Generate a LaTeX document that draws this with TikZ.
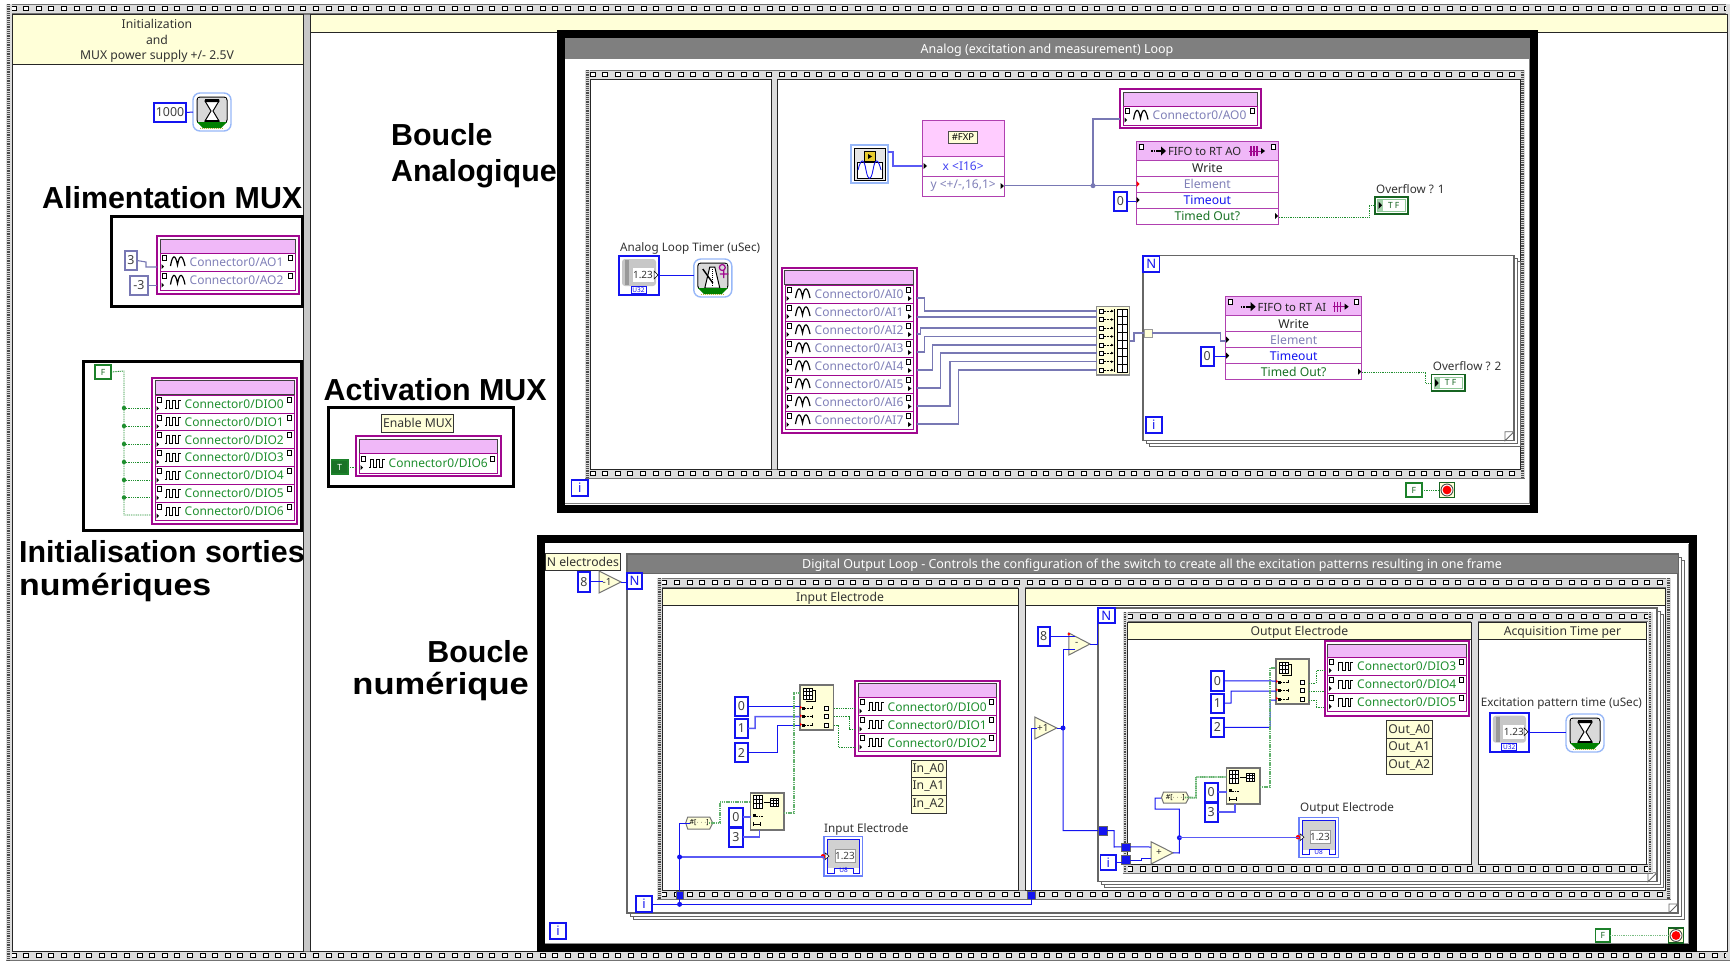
\documentclass[tikz,border=0pt]{standalone}
\usepackage{fontspec}
\setmainfont{Noto Sans}
\newfontfamily\bigfam{Liberation Sans}
\usetikzlibrary{calc}
\definecolor{mag}{HTML}{A0088F}
\definecolor{rowb}{HTML}{B040B0}
\definecolor{pinkh}{HTML}{F0B8F8}
\definecolor{pinkl}{HTML}{FFCCFF}
\definecolor{yel}{HTML}{FFFFD8}
\definecolor{film}{HTML}{DCDCDC}
\definecolor{hdr}{HTML}{7F7F7F}
\definecolor{dbl}{HTML}{7878B4}
\definecolor{dbt}{HTML}{8080B8}
\definecolor{grn}{HTML}{1F8F2F}
\definecolor{wblue}{HTML}{1414F0}
\definecolor{lblue}{HTML}{98B8F8}
\tikzset{
  box/.style={rectangle,inner sep=0pt,outer sep=0pt},
  txt/.style={font=\fontsize{11.7}{14}\selectfont,text=black!80,inner sep=0pt},
  ctxt/.style={font=\fontsize{12}{14}\selectfont,text=black!80,inner sep=0pt},
  bigt/.style={font=\bigfam\bfseries\fontsize{30.4}{34}\selectfont,text=black,inner sep=0pt,anchor=west},
  ttl/.style={font=\fontsize{12.5}{14}\selectfont\bfseries,text=white,inner sep=0pt},
  nconst/.style={draw=wblue,line width=2pt,fill=white,font=\fontsize{12.4}{14}\selectfont,text=black!75},
  dconst/.style={draw=dbl,line width=1.6pt,fill=white,font=\fontsize{12.4}{14}\selectfont,text=black!75},
  bconst/.style={draw=grn!90!black,line width=1.6pt,fill=white,font=\fontsize{8.5}{9}\selectfont\bfseries,text=grn!70!black},
  tconst/.style={draw=grn!90!black,line width=1.6pt,fill=grn!80!black,font=\fontsize{8.5}{9}\selectfont\bfseries,text=white},
  iterm/.style={draw=wblue,line width=1.8pt,fill=white,font=\fontsize{13}{14}\selectfont\bfseries,text=wblue},
  bw/.style={draw=wblue,line width=1pt},
  bt/.style={draw=wblue!70,line width=1.5pt},
  dw/.style={draw=dbl,line width=1.1pt},
  gw/.style={draw=grn,line width=.9pt,dash pattern=on 1pt off .8pt},
  gt/.style={draw=grn!70,line width=1.8pt,dash pattern=on 1.2pt off .6pt},
  fr/.style={draw=black!85,line width=1pt,fill=white},
  hd/.style={draw=black!85,line width=1pt,fill=yel},
  hdt/.style={hd,font=\fontsize{12.2}{14}\selectfont,text=black!80},
  tun/.style={fill=wblue,draw=black!60,line width=.4pt},
  lbl/.style={draw=black!80,line width=.8pt,fill=yel,font=\fontsize{12.2}{14}\selectfont,text=black!80},
  blk/.style={draw=black,line width=3pt},
  divd/.style={fill=black!22,draw=black!55,line width=.6pt},
}
\newcommand{\bx}[7]{%
  \pgfmathsetmacro\mycx{(#2+#4)/2}\pgfmathsetmacro\mycy{(#3+#5)/2}%
  \pgfmathsetmacro\myw{#4-#2}\pgfmathsetmacro\myh{#5-#3}%
  \node[box,minimum width=\myw pt,minimum height=\myh pt,#6] (#1) at (\mycx,\mycy) {#7};}
\newcommand{\low}[1]{\raisebox{-2pt}[\height][\depth]{#1}}
\newcommand{\filmH}[3]{%
  \fill[film] (#1,#3) rectangle (#2,#3+9);
  \draw[black!55,line width=.8pt] (#1,#3) -- (#2,#3) (#1,#3+9) -- (#2,#3+9);
  \pgfmathtruncatemacro\myn{(#2-#1-10)/12.6}%
  \foreach \k in {0,...,\myn}{\pgfmathsetmacro\xx{#1+5+\k*12.6}%
    \draw[black,fill=white,line width=.8pt] (\xx,#3+2.3) rectangle (\xx+5,#3+6.8);}}
\newcommand{\filmV}[4]{%
  \fill[film] (#1,#2) rectangle (#3,#4);
  \draw[black!70,line width=2.6pt,dash pattern=on .9pt off .9pt] ({(#1+#3)/2},#2) -- ({(#1+#3)/2},#4);}
\newcommand{\gA}{\draw[black,line width=1.2pt] (10.5,4) .. controls (12.5,-8) and (15.5,-8) .. (17.5,3) .. controls (19.5,-8) and (22.5,-8) .. (25,4);}
\newcommand{\gD}{\draw[black,line width=.8pt] (10,4) -- (11,4) -- (11,-4) -- (14.5,-4) -- (14.5,4) -- (17.5,4) -- (17.5,-4) -- (20.5,-4) -- (20.5,4) -- (23,4) -- (23,-4) -- (25.5,-4);}
\newcommand{\pgL}{\draw[black,fill=white,line width=.6pt] (2,-7) rectangle (6,-2); \fill[black] (1.5,2) -- (4,4.5) -- (1.5,7) -- cycle;}
\newcommand{\iorow}[8]{%
  \bx{#1}{#2}{#3}{#4}{#5}{draw=mag,line width=.8pt,fill=white}{}%
  \pgfmathsetmacro\ym{(#3+#5)/2}%
  \begin{scope}[shift={(#2,\ym)}]\pgL #6\end{scope}
  \begin{scope}[shift={(#4,\ym)}]\draw[black,fill=white,line width=.6pt] (-7,-7) rectangle (-3,-2);\end{scope}
  \node[ctxt,anchor=west,text=#7] (#1t) at ([xshift=29.5pt]#1.west) {#8};}
\newcommand{\ioframe}[5]{%
  \bx{#1}{#2}{#3}{#4}{#5}{draw=mag,line width=2pt,fill=white}{}%
  \fill[pinkh,draw=black!75,line width=.8pt] (#2+3,#3+3) rectangle (#4-3,#3+17);}
\newcommand{\rTri}[2]{\fill[black] (#1,#2) -- (#1+3.5,#2+3) -- (#1,#2+6) -- cycle;}
\newcommand{\hglass}[3]{%
  \node[box,minimum width=38pt,minimum height=38pt,rounded corners=7pt,draw=lblue,line width=1.4pt,fill=white] (#1) at (#2,#3) {};
  \begin{scope}[shift={(#2,#3)}]
   \draw[black,rounded corners=3pt,fill=white,line width=1pt] (-15,-15) rectangle (15,11);
   \fill[black!15] (-14,-14) rectangle (14,10);
   \draw[black,line width=1pt,fill=white] (-7,-11) -- (7,-11) -- (1,-1) -- (7,9) -- (-7,9) -- (-1,-1) -- cycle;
   \fill[black] (-7,-13) rectangle (7,-10) (-7,8) rectangle (7,11);
   \fill[green!50!black] (-15,10) -- (15,10) -- (9,16) -- (-9,16) -- cycle;
   \draw[yellow!70!black,line width=1pt,dash pattern=on 1pt off 1pt] (-12,16.5) -- (12,16.5);
  \end{scope}}
\newcommand{\metro}[3]{%
  \node[box,minimum width=38pt,minimum height=38pt,rounded corners=7pt,draw=lblue,line width=1.4pt,fill=white] (#1) at (#2,#3) {};
  \begin{scope}[shift={(#2,#3)}]
   \draw[black,rounded corners=3pt,fill=white,line width=1pt] (-15,-15) rectangle (15,11);
   \fill[black!15] (-14,-14) rectangle (14,10);
   \draw[black,fill=white,line width=1pt] (-8,10) -- (-3,-11) -- (2,-11) -- (7,10) -- cycle;
   \draw[black,line width=1.4pt] (-10,-9) -- (0,5);
   \draw[black,line width=1pt,dash pattern=on 1pt off 1pt] (-.5,-9) -- (-.5,8);
   \draw[mag,line width=1.2pt] (9.5,-10.5) circle (3) (7,-4) -- (15.5,-4) (11,-8) -- (11,0);
   \fill[green!50!black] (-15,10) -- (15,10) -- (9,16) -- (-9,16) -- cycle;
   \draw[yellow!70!black,line width=1pt,dash pattern=on 1pt off 1pt] (-12,16.5) -- (12,16.5);
  \end{scope}}
\newcommand{\nctl}[5]{%
  \bx{#1}{#2}{#3}{#4}{#5}{draw=wblue,line width=2.2pt,fill=white}{}%
  \fill[black!22,rounded corners=3pt] (#2+3,#3+3) rectangle (#4-3,#5-9);
  \fill[black!40] (#2+6,#3+4) rectangle (#2+10,#5-10);
  \node[box,fill=white,minimum width=21pt,minimum height=14pt,font=\fontsize{10}{11}\selectfont,text=black!80] (#1n) at (#2+24,#3+19) {1.23};
  \fill[white,draw=black,line width=.5pt] (#4-5,#3+15) -- (#4-1,#3+19) -- (#4-5,#3+23) -- cycle;
  \node[box,draw=wblue,fill=white,line width=1pt,minimum width=15pt,minimum height=7pt,font=\fontsize{6.5}{7}\selectfont\bfseries,text=wblue] (#1u) at (#2+19.5,#5-5) {U32};}
\newcommand{\nind}[6]{%
  \bx{#1}{#2}{#3}{#4}{#5}{draw=lblue!70!blue,line width=1.2pt,fill=white}{}%
  \fill[black!18] (#2+3,#3+3) rectangle (#4-3,#5-8);
  \fill[white] (#2+12,#5-8) rectangle (#4-12,#5-3);
  \draw[wblue,line width=.9pt] (#2+3,#3+3) -- (#4-3,#3+3) -- (#4-3,#5-3) -- (#4-9,#5-3) -- (#4-9,#5-8) -- (#2+10,#5-8) -- (#2+10,#5-3) -- (#2+3,#5-3) -- cycle;
  \node[box,fill=white,draw=black!40,line width=.8pt,minimum width=20pt,minimum height=13pt,font=\fontsize{10}{11}\selectfont,text=black!75] (#1n) at (#2+21,#3+19) {1.23};
  \node[box,font=\fontsize{6.5}{7}\selectfont\bfseries,text=wblue] (#1u) at (#2+19.5,#5-5.5) {#6};
  \fill[white,draw=black,line width=.5pt] (#2+1,#3+16) -- (#2+5,#3+19.5) -- (#2+1,#3+23) -- cycle;
  \fill[red] (#2-1,#3+19.5) circle (2.2pt);}
\newcommand{\tfind}[5]{%
  \bx{#1}{#2}{#3}{#4}{#5}{draw=grn!70!black,line width=1.4pt,fill=white,font=\fontsize{8.5}{9}\selectfont\bfseries,text=grn!70!black,align=center}{\ \ T F}%
  \draw[grn!50,line width=.8pt] (#2+2.5,#3+2.5) rectangle (#4-2.5,#5-2.5);
  \fill[grn!40] (#2+3,#3+3) rectangle (#2+8,#5-3);
  \fill[black] (#2+3.5,#3+4.5) -- (#2+7,#3+8.3) -- (#2+3.5,#3+12) -- cycle;}
\newcommand{\stopb}[3]{%
  \node[box,minimum size=15pt,draw=grn!70!black,line width=1.2pt,fill=yel] (#1) at (#2,#3) {};
  \draw[black!70,fill=white,line width=.9pt] (#2,#3) circle (6pt);
  \fill[red] (#2,#3) circle (4.4pt);}
\newcommand{\grid}[4]{% x y w h
  \draw[black,line width=.7pt,fill=white] (#1,#2) rectangle (#1+#3,#2+#4);
  \draw[black,line width=.5pt] (#1+#3/3,#2) -- (#1+#3/3,#2+#4) (#1+2*#3/3,#2) -- (#1+2*#3/3,#2+#4) (#1,#2+#4/3) -- (#1+#3,#2+#4/3) (#1,#2+2*#4/3) -- (#1+#3,#2+2*#4/3);}
\newcommand{\idxrow}[3]{% x1 x2 y
  \fill[black] (#1+2,#3-1.2) rectangle (#1+5,#3+1.5);
  \draw[black,line width=.5pt,dash pattern=on .8pt off .8pt] (#1+5,#3) -- (#1+12,#3);
  \draw[black,line width=.6pt] (#1+12,#3-2) -- (#1+12,#3+1);
  \draw[black,fill=white,line width=.7pt] (#2-9,#3-2) rectangle (#2-5,#3+2);
  \fill[red] (#1,#3-2.4) -- (#1+2,#3-.6) -- (#1,#3+1) -- cycle;}
\newcommand{\idxbox}[5]{%
  \bx{#1}{#2}{#3}{#4}{#5}{draw=black!55,line width=1.1pt,fill=yel}{}%
  \grid{#2+3}{#3+3}{9}{11}
  \draw[black,line width=.5pt] (#2+12,#3+5) -- (#2+15,#3+5) -- (#2+15,#3+16) -- (#2+6,#3+16);
  \idxrow{#2}{#4}{#3+23}\idxrow{#2}{#4}{#3+31.5}\idxrow{#2}{#4}{#3+40}}
\newcommand{\rshp}[5]{%
  \bx{#1}{#2}{#3}{#4}{#5}{draw=black!55,line width=1.1pt,fill=yel}{}%
  \grid{#2+3}{#3+2}{9}{13}\grid{#2+20}{#3+5}{8}{8}
  \draw[black,line width=.7pt] (#2+13,#3+9) -- (#2+19,#3+9);
  \fill[black] (#2+2.5,#3+21) rectangle (#2+5,#3+24);
  \draw[black,line width=.5pt,dash pattern=on .8pt off .8pt] (#2+5,#3+23) -- (#2+12,#3+23);
  \draw[black,line width=.8pt] (#2+2.5,#3+31) -- (#2+10,#3+31) (#2+2.5,#3+29) -- (#2+2.5,#3+33) (#2+10,#3+29) -- (#2+10,#3+33);}
\newcommand{\tagn}[5]{%
  \draw[black!55,fill=yel,line width=1pt] (#2+2,#3) -- (#4-3,#3) -- (#4,{(#3+#5)/2}) -- (#4-3,#5) -- (#2+2,#5) -- (#2,{(#3+#5)/2}) -- cycle;
  \node[box,font=\fontsize{7}{8}\selectfont\bfseries,text=black] (#1) at ({(#2+#4)/2},{(#3+#5)/2}) {\#[$\cdots$]};}
\newcommand{\trin}[6]{%
  \draw[black!55,fill=yel,line width=1pt] (#2,#3) -- (#4,{(#3+#5)/2}) -- (#2,#5) -- cycle;
  \coordinate (#1o) at (#4,{(#3+#5)/2});
  \node[box,font=\fontsize{10}{11}\selectfont\bfseries,text=black!80] (#1) at (#2+8,{(#3+#5)/2}) {#6};}
\newcommand{\forloop}[5]{%
  \fill[white,draw=black!60,line width=.8pt] (#2+6,#3+6) rectangle (#4+6,#5+6);
  \fill[white,draw=black!60,line width=.8pt] (#2+3,#3+3) rectangle (#4+3,#5+3);
  \bx{#1}{#2}{#3}{#4}{#5}{draw=black!60,line width=1.2pt,fill=white}{}%
  \draw[black!60,fill=white,line width=.8pt] (#4-9,#5) -- (#4-9,#5-9) -- (#4,#5-9) -- cycle;}
\begin{document}
\begin{tikzpicture}[x=1pt,y=-1pt]
\useasboundingbox (0,0) rectangle (1730,962);
\fill[white] (0,0) rectangle (1730,962);
%% ---------- outer flat sequence
\filmH{6}{1730}{4}
\filmH{6}{1730}{951}
\filmV{6}{4}{11.5}{960}
\fill[film] (1726,4) rectangle (1730,960);
\draw[divd] (303,14) rectangle (310,951);
\bx{frA}{12}{14}{303}{951}{fr}{}
\bx{frB}{310}{14}{1727}{951}{fr}{}
\bx{hdA}{12}{14}{303}{64}{hd}{}
\node[box,align=center,font=\fontsize{12.2}{15.8}\selectfont,text=black!80] (hdAt) at (157,41) {Initialization\\and\\MUX power supply +/- 2.5V};
\bx{hdB}{310}{14}{1727}{32}{hd}{}
%% ---------- left column
\bx{kT}{154}{103}{186}{122}{nconst}{1000}
\hglass{wait}{212}{112}
\draw[bw] (kT.east) -- (wait.west);
\node[bigt] (tAl) at (42,198) {Alimentation MUX};
\bx{bAl}{111}{216}{302}{306}{blk}{}
\ioframe{ao}{157}{236}{298.5}{293.6}
\iorow{aoA}{160}{253}{295.5}{271}{\gA}{dbt}{Connector0/AO1}
\iorow{aoB}{160}{271}{295.5}{290}{\gA}{dbt}{Connector0/AO2}
\bx{k3}{125}{251}{137}{270}{dconst}{3}
\bx{km3}{130}{276}{148}{295}{dconst}{-3}
\draw[dw] (k3.east) -- (146,262) -- (146,267) -- (ao.west |- 0,267);
\draw[dw] (km3.east) -- (ao.west |- km3.east);
\bx{bIn}{83}{361}{301}{530}{blk}{}
\bx{kF}{95}{365}{111}{379}{bconst}{F}
\ioframe{dio}{152}{377.5}{297}{524}
\foreach \k in {0,...,6}{\pgfmathsetmacro\ya{395+17.9*\k}\pgfmathsetmacro\yb{395+17.9*(\k+1)}
  \iorow{d\k}{155}{\ya}{294}{\yb}{\gD}{grn}{Connector0/DIO\k}}
\coordinate (trk) at (124,371);
\draw[gw] (kF.east) -- (trk) -- (124,515) -- (dio.west |- 0,515);
\foreach \y in {408,426,444,462,480,497.5}{
  \draw[gw] (124,\y) -- (dio.west |- 0,\y);
  \fill[grn] (124,\y) circle (2.2pt);}
\node[bigt] (tIa) at (19,552) {Initialisation sorties};
\node[bigt] (tIb) at (19,587) {\scalebox{1.115}[1]{numériques}};
%% ---------- middle labels
\node[bigt] (tBa) at (391,135) {Boucle};
\node[bigt] (tBb) at (391,173.5) {Analogique};
\node[bigt] (tAc) at (323.5,390) {Activation MUX};
\bx{bAc}{328}{407.5}{513}{486}{blk}{}
\bx{enM}{381.4}{414}{453.6}{432}{lbl}{Enable MUX}
\ioframe{dsix}{356}{436.4}{500.7}{476}
\iorow{dsixr}{359}{453.4}{497.7}{473}{\gD}{grn}{Connector0/DIO6}
\bx{kT2}{331.4}{460}{348}{474}{tconst}{T}
\draw[gw] (kT2.east) -- (dsix.west |- kT2.east);
\node[bigt,anchor=east] (tNa) at (529,652) {Boucle};
\node[bigt,anchor=east] (tNb) at (529,686) {\scalebox{1.135}[1]{numérique}};
%% ---------- analog loop
\bx{anBlk}{561}{34}{1534}{509}{draw=black,line width=8pt,fill=white}{}
\bx{anHd}{565}{38}{1530}{59}{fill=hdr}{}
\node[ttl] (anT) at (1047,50.5) {Analog (excitation and measurement) Loop};
\draw[black!50,line width=1.2pt] (1529.5,59) -- (1529.5,503.5) -- (565,503.5);
\filmH{585}{1525}{70}
\filmH{585}{1525}{469}
\filmV{585}{70}{590}{478}
\filmV{1520.5}{70}{1525}{478}
\fill[film] (771,79) rectangle (777,469);
\bx{anA}{590}{79}{771}{469}{fr}{}
\bx{anB}{777}{79}{1520}{469}{fr}{}
\bx{anI}{571.5}{480}{588}{496}{iterm}{i}
\node[txt,anchor=west] (lTim) at (620,248) {Analog Loop Timer (uSec)};
\nctl{cTim}{619}{256}{659}{295}
\metro{mTim}{712.8}{278}
\draw[bw] (cTim.east) -- (mTim.west |- cTim.east);
% signal generator
\bx{sig}{851}{145}{888}{183}{draw=lblue,line width=1.6pt,fill=white}{}
\draw[black,line width=1pt,fill=black!10] (854,148) rectangle (885,180);
\fill[yellow!60!brown,draw=black,line width=.5pt] (864,151) rectangle (875,161);
\fill[black] (868,154) -- (872,156.5) -- (868,159) -- cycle;
\draw[black,fill=white,line width=.8pt] (857,162) rectangle (882,178);
\draw[wblue,line width=.9pt] (858,170) .. controls (861,158) and (864,158) .. (866,170) .. controls (868,181) and (871,181) .. (873,170) .. controls (875,158) and (878,158) .. (881,170);
% to fixed point
\bx{fxp}{922.4}{120}{1004}{156}{draw=rowb,line width=1pt,fill=pinkl}{}
\node[box,draw=black!70,fill=yel,line width=.8pt,minimum width=29pt,minimum height=12pt,font=\fontsize{9.5}{10}\selectfont\bfseries,text=black] (fxpT) at (963,137.5) {\#FXP};
\bx{fxpA}{922.4}{156}{1004}{176}{draw=rowb,line width=1pt,fill=white,font=\fontsize{12}{14}\selectfont,text=wblue!80}{x <I16>}
\bx{fxpB}{922.4}{176}{1004}{196}{draw=rowb,line width=1pt,fill=white,font=\fontsize{12}{14}\selectfont,text=dbt}{y <+/-,16,1>}
\rTri{923.5}{163}\rTri{1000.5}{183}
\draw[bt] (sig.east |- 0,152) -- (893,152) -- (893,166) -- (fxpA.west |- 0,166);
% AO0 and FIFO
\ioframe{aoz}{1120}{89}{1260.7}{128}
\iorow{aozr}{1123}{106}{1257.7}{125}{\gA}{dbt}{Connector0/AO0}
\newcommand{\fifo}[7]{%
 \bx{#1h}{#2}{#3}{#4}{#3+19}{draw=rowb,line width=1pt,fill=pinkh}{}%
 \node[box,anchor=west,font=\fontsize{11.3}{14}\selectfont,text=black!85] (#1t) at (#2+32,#3+10.5) {#5};
 \draw[black,fill=white,line width=.6pt] (#2+3,#3+3) rectangle (#2+7,#3+8) (#4-7,#3+3) rectangle (#4-3,#3+8);
 \draw[black,line width=1.6pt,dash pattern=on 1.5pt off 1pt] (#2+15,#3+10) -- (#2+21,#3+10);
 \draw[black,line width=1.6pt] (#2+21,#3+10) -- (#2+26,#3+10);
 \fill[black] (#2+25,#3+5.5) -- (#2+30,#3+10) -- (#2+25,#3+14.5) -- cycle;
 \draw[mag,line width=1.2pt] (#2+#7,#3+5) -- (#2+#7,#3+15) (#2+#7+3,#3+5) -- (#2+#7+3,#3+15) (#2+#7+6,#3+5) -- (#2+#7+6,#3+15);
 \draw[mag,line width=1pt] (#2+#7-2,#3+10) -- (#2+#7+13,#3+10);
 \fill[black] (#2+#7+10,#3+7) -- (#2+#7+14,#3+10) -- (#2+#7+10,#3+13) -- cycle;
 \pgfmathsetmacro\ya{#3+19}\pgfmathsetmacro\yb{#3+35}\pgfmathsetmacro\yc{#3+51}\pgfmathsetmacro\yd{#3+67}\pgfmathsetmacro\ye{#3+83}%
 \bx{#1a}{#2}{\ya}{#4}{\yb}{draw=rowb,line width=1pt,fill=white,font=\fontsize{12.2}{14}\selectfont,text=black!85}{Write}%
 \bx{#1b}{#2}{\yb}{#4}{\yc}{draw=rowb,line width=1pt,fill=white,font=\fontsize{12.2}{14}\selectfont,text=dbt}{Element}%
 \bx{#1c}{#2}{\yc}{#4}{\yd}{draw=rowb,line width=1pt,fill=white,font=\fontsize{12.2}{14}\selectfont,text=wblue}{Timeout}%
 \bx{#1d}{#2}{\yd}{#4}{\ye}{draw=rowb,line width=1pt,fill=white,font=\fontsize{12.2}{14}\selectfont,text=grn!80!black}{Timed Out?}%
 \fill[#6] (#2+.5,\yb+5) -- (#2+3.5,\yb+8) -- (#2+.5,\yb+11) -- cycle;
 \fill[black] (#2+.5,\yc+5) -- (#2+3.5,\yc+8) -- (#2+.5,\yc+11) -- cycle;
 \fill[black] (#4-3.5,\yd+5) -- (#4-.5,\yd+8) -- (#4-3.5,\yd+11) -- cycle;
}
\fifo{fa}{1136}{141}{1278.7}{FIFO to RT AO}{red}{115}
\bx{kZa}{1114}{192}{1127}{211}{nconst}{0}
\draw[bw] (kZa.east) -- (fac.west |- kZa.east);
\coordinate (jA) at (1093,185.7);
\draw[dw] (fxpB.east |- jA) -- (fab.west |- jA);
\draw[dw] (jA) -- (1093,119) -- (aoz.west |- 0,119);
\fill[dbl] (jA) circle (2.5pt);
\node[txt,anchor=west] (lOv) at (1376,189) {Overflow ? 1};
\tfind{iOv}{1375}{197}{1408}{214}
\draw[gw] (fad.east |- 0,217.5) -- (1369,217.5) -- (1369,205.5) -- (iOv.west |- 0,205.5);
% AI node
\ioframe{ai}{781.6}{267.7}{916.7}{432.7}
\foreach \k in {0,...,7}{\pgfmathsetmacro\ya{285+18*\k}\pgfmathsetmacro\yb{285+18*(\k+1)}
  \iorow{a\k}{785}{\ya}{913.7}{\yb}{\gA}{dbt}{Connector0/AI\k}
  \fill[black] (908,\ya+11) -- (911.5,\ya+13.5) -- (908,\ya+16) -- cycle;}
% build array
\bx{bld}{1096.5}{306.7}{1129.5}{375}{draw=black!45,line width=1.1pt,fill=yel}{}
\foreach \y in {311,319.5,328,336.5,345,353,361.7,370}{
  \draw[black,fill=white,line width=.7pt] (1099.5,\y-2) rectangle (1103.5,\y+2);
  \draw[black,line width=.5pt,dash pattern=on .8pt off .8pt] (1103.5,\y) -- (1112,\y);
  \fill[black] (1111,\y-1.3) -- (1113.5,\y) -- (1111,\y+1.3) -- cycle;}
\draw[black,fill=white,line width=.7pt] (1117,309) rectangle (1127,372);
\foreach \y in {316,324,332,340,348,356,364}{\draw[black,line width=.5pt] (1117,\y) -- (1127,\y);}
\draw[black,line width=.5pt] (1122,309) -- (1122,372) (1114.5,309) -- (1114.5,372);
\draw[dw] (ai.east |- 0,298) -- (924.7,298) -- (924.7,311) -- (bld.west |- 0,311);
\draw[dw] (ai.east |- 0,317) -- (bld.west |- 0,317);
\draw[dw] (ai.east |- 0,334) -- (920.5,334) -- (920.5,328) -- (bld.west |- 0,328);
\draw[dw] (ai.east |- 0,352) -- (924.7,352) -- (924.7,336.7) -- (bld.west |- 0,336.7);
\draw[dw] (ai.east |- 0,370) -- (932.4,370) -- (932.4,345) -- (bld.west |- 0,345);
\draw[dw] (ai.east |- 0,388) -- (940.8,388) -- (940.8,353) -- (bld.west |- 0,353);
\draw[dw] (ai.east |- 0,406) -- (950,406) -- (950,361.7) -- (bld.west |- 0,361.7);
\draw[dw] (ai.east |- 0,424) -- (958.4,424) -- (958.4,370) -- (bld.west |- 0,370);
% AI for loop
\forloop{lpA}{1143}{255.7}{1514}{440.7}
\bx{lpAN}{1143}{255.7}{1159.5}{271.6}{iterm}{N}
\bx{lpAi}{1145.7}{417}{1161.7}{433}{iterm}{i}
\bx{tunA}{1144}{329}{1152}{337}{draw=black!40,fill=yel,line width=1pt}{}
\draw[dw,line width=1.8pt] (bld.east |- 0,340.7) -- (1134,340.7) -- (1134,332.7) -- (tunA.west |- 0,332.7);
\fifo{fb}{1225.7}{296.7}{1361.7}{FIFO to RT AI}{black}{109}
\draw[dw] (tunA.east) -- (1220.7,333) -- (1220.7,341) -- (fbb.west |- 0,341);
\bx{kZb}{1200.7}{347}{1213.7}{366}{nconst}{0}
\draw[bw] (kZb.east) -- (fbc.west |- kZb.east);
\node[txt,anchor=west] (lOw) at (1432.7,366) {Overflow ? 2};
\tfind{iOw}{1431.7}{374.7}{1465}{391}
\draw[gw] (fbd.east |- 0,372) -- (1425.7,372) -- (1425.7,383) -- (iOw.west |- 0,383);
\bx{kF2}{1405.7}{483}{1422}{497}{bconst}{F}
\stopb{stA}{1447}{490}
\draw[gw] (kF2.east) -- (stA.west);
%% ---------- digital loop
\bx{diBlk}{540.7}{539}{1693}{948}{draw=black,line width=8pt,fill=white}{}
\draw[black!45,line width=1pt] (1688.5,544) -- (1688.5,943.5) -- (545,943.5);
\bx{nEl}{545.7}{553}{620}{570.7}{lbl}{N electrodes}
\forloop{lpD}{627}{554}{1678}{913}
\bx{diHd}{627}{554}{1678}{573}{fill=hdr,draw=black!60,line width=.8pt}{}
\node[ttl] (diT) at (1152,565.5) {Digital Output Loop - Controls the configuration of the switch to create all the excitation patterns resulting in one frame};
\bx{lpDN}{627}{573}{642}{589}{iterm}{N}
\bx{k8}{577.7}{572}{590}{591.7}{nconst}{8}
\trin{tM}{599}{571}{621}{593}{-1}
\draw[bw] (k8.east) -- (tM.west |- k8.east);
\draw[bw] (tMo) -- (lpDN.west |- tMo);
\filmH{656.7}{1671}{578}
\filmH{656.7}{1671}{890}
\filmV{656.7}{578}{662}{899}
\filmV{1666}{578}{1671}{899}
\fill[film] (1018,587) rectangle (1025,890);
\bx{sqA}{662}{588}{1018}{890}{fr}{}
\bx{sqB}{1025}{588}{1665}{890}{fr}{}
\bx{hdIn}{662}{588}{1018}{605}{hdt}{\low{Input Electrode}}
\bx{hdOut}{1025}{588}{1665}{605}{hd}{}
% input electrode frame
\bx{k00}{735}{696.7}{748}{716}{nconst}{0}
\bx{k01}{735}{718.7}{748}{738}{nconst}{1}
\bx{k02}{735}{743}{748}{762}{nconst}{2}
\idxbox{idA}{800}{685}{833.7}{730}
\draw[bw] (k00.east) -- (idA.west |- k00.east);
\draw[bt] (k01.east) -- (755,728.3) -- (755,716.7) -- (idA.west |- 0,716.7);
\draw[bw] (k02.east) -- (777,752.5) -- (777,725) -- (idA.west |- 0,725);
\ioframe{diA}{855}{680.7}{999.7}{756}
\foreach \k/\r in {0/0,1/1,2/2}{\pgfmathsetmacro\ya{697.7+18*\k}\pgfmathsetmacro\yb{697.7+18*(\k+1)}
  \iorow{ea\k}{858}{\ya}{996.7}{\yb}{\gD}{grn}{Connector0/DIO\r}}
\draw[gw] (idA.east |- 0,708) -- (diA.west |- 0,708);
\draw[gw] (idA.east |- 0,716.7) -- (849,716.7) -- (849,729) -- (diA.west |- 0,729);
\draw[gw] (idA.east |- 0,725) -- (838,725) -- (838,747) -- (diA.west |- 0,747);
\rshp{rsA}{750.7}{793}{784}{830}
\tagn{tgA}{685.7}{817}{712.7}{829}
\draw[gt] (rsA.east |- 0,812.7) -- (794,812.7) -- (794,693) -- (idA.west |- 0,693);
\draw[gt] (tgA.east) -- (720,823) -- (720,802) -- (rsA.west |- 0,802);
\bx{k10}{729}{807.7}{743}{826.7}{nconst}{0}
\bx{k13}{729}{827.7}{743}{846.7}{nconst}{3}
\draw[bt] (k10.east) -- (rsA.west |- k10.east);
\draw[bt] (k13.east) -- (759.7,837.2) -- (rsA.south -| 759.7,0);
\node[txt,anchor=west] (lIn) at (824,829.5) {Input Electrode};
\nind{inA}{824}{836.7}{862.7}{876}{U8}
\bx{In0}{911}{760}{946}{777.7}{lbl}{In\_A0}
\bx{In1}{911}{777.7}{946}{795.4}{lbl}{In\_A1}
\bx{In2}{911}{795.4}{946}{813}{lbl}{In\_A2}
\bx{tu1}{675.7}{890.7}{683.6}{898.7}{tun}{}
\bx{tu2}{1027}{890.7}{1035}{898.7}{tun}{}
\bx{lpDi}{636}{896}{652}{912}{iterm}{i}
\coordinate (j1) at (679.6,857);
\coordinate (j2) at (679.6,904.3);
\draw[bw] (tgA.west) -- (679.6,823) -- (tu1.north -| j1);
\draw[bt] (j1) -- (inA.west |- j1);
\fill[wblue] (j1) circle (2.5pt);
\draw[bw] (lpDi.east |- j2) -- (1031,904.3) -- (tu2.south);
\draw[bw] (j2) -- (tu1.south -| j2);
\fill[wblue] (j2) circle (2.5pt);
%% inner for loop
\trin{tP}{1034.8}{717}{1056.8}{739}{+1}
\draw[bw] (tu2.north) -- (1031,728) -- (tP.west |- 0,728);
\bx{k28}{1037.5}{627}{1050}{646}{nconst}{8}
\trin{tS}{1068.8}{633}{1090}{655}{-}
\fill[red] (1068.8,634) circle (1.5pt);
\draw[bw] (k28.east) -- (tS.west |- k28.east);
\forloop{lpO}{1098}{608}{1657}{881.7}
\bx{lpON}{1098}{608}{1114.7}{623}{iterm}{N}
\draw[bw] (tSo) -- (1097,644) -- (1097,615) -- (lpON.west |- 0,615);
\filmH{1122.5}{1652.8}{612}
\filmH{1122.5}{1652.8}{864.5}
\filmV{1122.5}{612}{1127.5}{873}
\filmV{1647.5}{612}{1652.8}{873}
\fill[film] (1471.4,621) rectangle (1478,864.5);
\bx{oqA}{1127.5}{622}{1471.4}{864.5}{fr}{}
\bx{oqB}{1478}{622}{1646.8}{864.5}{fr}{}
\bx{hdOE}{1127.5}{622}{1471.4}{639}{hdt}{\low{Output Electrode}}
\bx{hdAQ}{1478}{622}{1646.8}{639}{hdt}{\low{Acquisition Time per}}
\coordinate (j3) at (1063,728);
\draw[bw] (tPo) -- (j3);
\fill[wblue] (j3) circle (2.5pt);
\draw[bw] (tS.west |- 0,649) -- (1063,649) -- (j3);
\bx{tu3}{1098}{826}{1107}{835}{tun}{}
\bx{tu4}{1121.6}{842.7}{1130}{851}{tun}{}
\bx{tu5}{1121.6}{855}{1130}{864}{tun}{}
\draw[bw] (j3) -- (1063,830.7) -- (tu3.west);
\draw[bw] (tu3.east) -- (1114,830.7) -- (1114,847) -- (tu4.west);
\bx{lpOi}{1100.4}{855}{1116}{870}{iterm}{i}
\draw[bw] (lpOi.east) -- (tu5.west |- lpOi.east);
\trin{tA}{1151}{841.7}{1173}{864}{+}
\draw[bw] (tu4.east) -- (1151,847);
\draw[bw] (tu5.east |- 0,860) -- (1141,860) -- (1141,858) -- (1151,858);
\coordinate (j4) at (1179.4,837.7);
\draw[bw] (tAo) -- (1179.4,853) -- (1179.4,809) -- (1155,809) -- (1155,798) -- (1161.5,798);
\fill[wblue] (j4) circle (2.5pt);
% output frame
\bx{k20}{1211}{671}{1224}{690.7}{nconst}{0}
\bx{k21}{1211}{693.7}{1224}{712.7}{nconst}{1}
\bx{k22}{1211}{717.7}{1224}{737}{nconst}{2}
\idxbox{idB}{1276}{659}{1309}{704}
\draw[bw] (k20.east) -- (idB.west |- 0,681);
\draw[bw] (k21.east) -- (1231,703) -- (1231,691) -- (idB.west |- 0,691);
\draw[bw] (k22.east) -- (1270,727.4) -- (1270,700) -- (idB.west |- 0,700);
\ioframe{diB}{1324.5}{641}{1469}{716}
\foreach \k/\r in {0/3,1/4,2/5}{\pgfmathsetmacro\ya{657+18*\k}\pgfmathsetmacro\yb{657+18*(\k+1)}
  \iorow{eb\k}{1327.5}{\ya}{1466}{\yb}{\gD}{grn}{Connector0/DIO\r}}
\draw[gw] (idB.east |- 0,683) -- (1316,683) -- (1316,670.7) -- (diB.west |- 0,670.7);
\draw[gw] (idB.east |- 0,691.7) -- (diB.west |- 0,691.7);
\draw[gw] (idB.east |- 0,700) -- (1316,700) -- (1316,707.7) -- (diB.west |- 0,707.7);
\rshp{rsB}{1226.7}{768}{1260}{804}
\tagn{tgB}{1161.5}{792}{1189}{803}
\draw[gt] (rsB.east |- 0,787) -- (1270,787) -- (1270,668) -- (idB.west |- 0,668);
\draw[gt] (tgB.east) -- (1196,797.7) -- (1196,777) -- (rsB.west |- 0,777);
\bx{k30}{1204.7}{782.7}{1217.7}{801.7}{nconst}{0}
\bx{k33}{1204.7}{802.7}{1217.7}{821.7}{nconst}{3}
\draw[bt] (k30.east) -- (rsB.west |- k30.east);
\draw[bt] (k33.east) -- (1235,812.2) -- (rsB.south -| 1235,0);
\node[txt,anchor=west] (lOE) at (1300,808.5) {Output Electrode};
\nind{inB}{1299}{817.7}{1338.7}{857.7}{U8}
\draw[bt] (j4) -- (inB.west |- j4);
\bx{Ou0}{1386.5}{720.7}{1432}{738.5}{lbl}{Out\_A0}
\bx{Ou1}{1386.5}{738.5}{1432}{756.2}{lbl}{Out\_A1}
\bx{Ou2}{1386.5}{756.2}{1432}{774}{lbl}{Out\_A2}
\node[txt,anchor=west] (lEx) at (1480.6,704) {Excitation pattern time (uSec)};
\nctl{cEx}{1489.8}{712.7}{1529}{751.7}
\hglass{wEx}{1585}{733}
\draw[bw] (cEx.east) -- (wEx.west |- cEx.east);
%% digital loop terminals
\bx{diI}{550}{923}{566}{939}{iterm}{i}
\bx{kF3}{1595.4}{929}{1610}{942}{bconst}{F}
\stopb{stB}{1676}{935.5}
\draw[gw,draw=grn!60] (kF3.east) -- (stB.west);
\end{tikzpicture}
\end{document}
